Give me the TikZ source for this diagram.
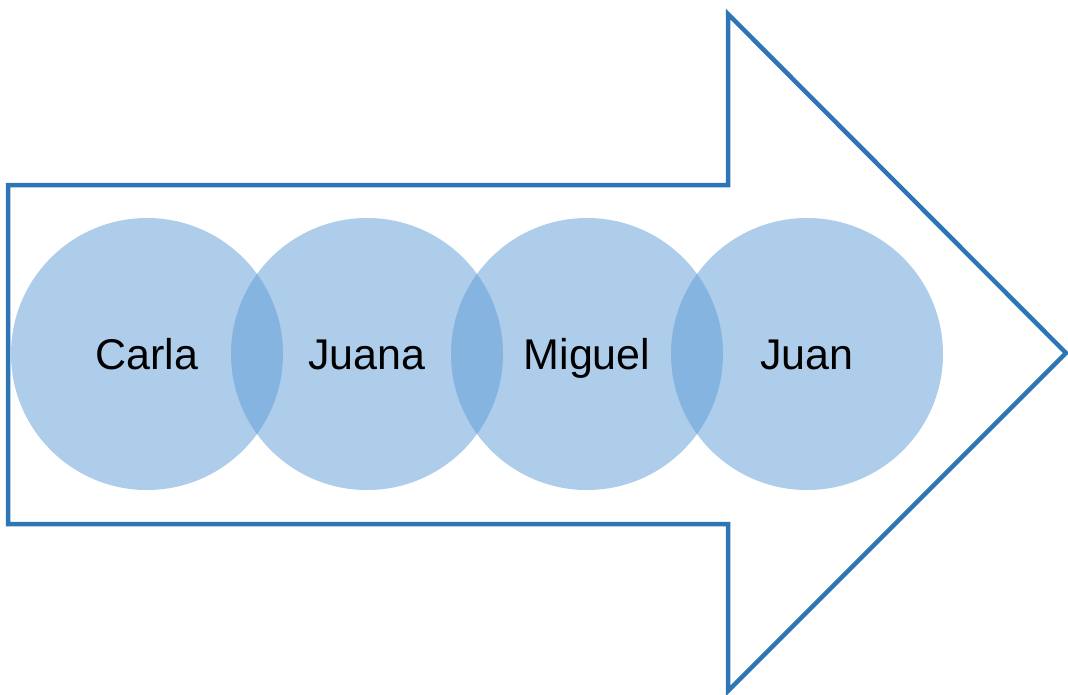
\documentclass[tikz,border=0pt]{standalone}
\usepackage{fontspec}
\setmainfont{Liberation Sans}
\usepackage{tikz}
\usetikzlibrary{arrows}

\definecolor{arrowblue}{RGB}{46,117,182}
\definecolor{discblue}{RGB}{91,155,213}

\begin{document}
\begin{tikzpicture}
         [x=1pt,y=-1pt,node distance=220pt,
          disc/.style={circle,minimum size=272pt,inner sep=0pt,
                       fill=discblue,fill opacity=0.5,text opacity=1,
                       text height=30pt,text depth=0pt,
                       font=\fontsize{43}{50}\selectfont}]
         \useasboundingbox (0,0) rectangle (1068,694);

         % big arrow behind the names
         \draw[arrowblue,line width=4.5pt,line join=miter]
            (8,185) -- (728,185) -- (728,14) -- (1066,353)
            -- (728,691) -- (728,524) -- (8,524) -- cycle;

         \node[disc] (carla) at (147,354) {Carla};
         \node[disc] (juana) [right of=carla] {Juana};
         \node[disc] (miguel) [right of=juana] {Miguel};
         \node[disc] (juan) [right of=miguel] {Juan};
      \end{tikzpicture}
\end{document}
